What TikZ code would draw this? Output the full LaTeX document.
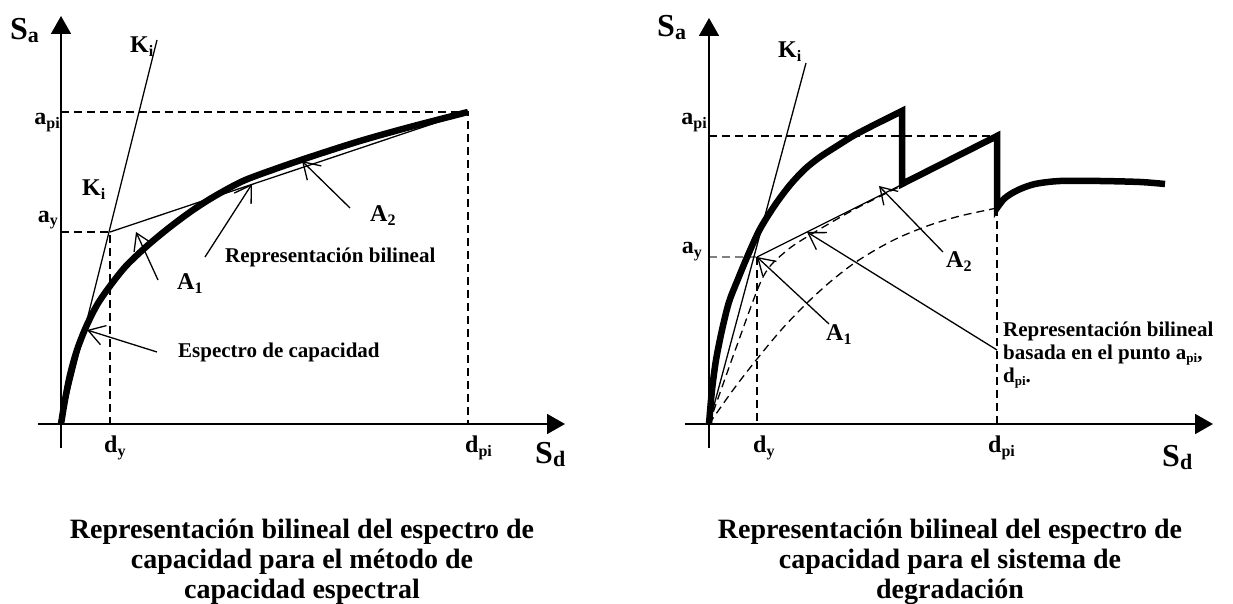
\documentclass[tikz,border=0pt]{standalone}
\usepackage{fontspec}
\setmainfont{Liberation Serif}
\usetikzlibrary{arrows.meta}
\newcommand{\lsub}[3]{\raisebox{-#2pt}{\fontsize{#1}{#1}\selectfont #3}}
\tikzset{
  ax/.style={line width=1.8pt, -{Triangle[length=18pt,width=20pt]}},
  thinln/.style={line width=1.3pt},
  dashln/.style={line width=1.3pt, dash pattern=on 8pt off 5pt},
  capcurve/.style={line width=6.5pt, line join=miter},
  ptr/.style={line width=1.3pt, -{Straight Barb[length=16pt,width=20pt]}},
  lbl/.style={font=\fontsize{24}{26}\selectfont\bfseries, inner sep=0pt},
  note/.style={font=\fontsize{21}{23}\selectfont\bfseries, inner sep=0pt},
  ttl/.style={font=\fontsize{28}{30}\selectfont\bfseries, align=center, inner sep=0pt},
  bigl/.style={font=\fontsize{32}{34}\selectfont\bfseries, inner sep=0pt},
}
\begin{document}
\begin{tikzpicture}[x=1pt,y=-1pt]
\useasboundingbox (0,0) rectangle (1233,604);
% ---------------- left chart ----------------
\coordinate (O1) at (61,424);
\coordinate (Y1) at (110,232);
\coordinate (P1) at (468,112);
\coordinate (yb1) at (61,448);
\coordinate (yt1) at (61,16);
\coordinate (xl1) at (38,424);
\coordinate (xr1) at (565,424);
\coordinate (kt1) at (157,40);
\coordinate (apL1) at (61,112);
\coordinate (dpB1) at (468,424);
\coordinate (ayL1) at (61,232);
\coordinate (dyB1) at (110,424);
% dashed guides
\draw[dashln] (apL1) -- (P1) -- (dpB1);
\draw[dashln] (ayL1) -- (Y1) -- (dyB1);
% axes
\draw[ax] (yb1) -- (yt1);
\draw[ax] (xl1) -- (xr1);
% K_i line and bilinear
\draw[thinln] (O1) -- (kt1);
\draw[thinln] (Y1) -- (P1);
% capacity curve
\draw[capcurve] plot[smooth] coordinates {(61,424) (65,400) (70,375) (77,350) (86,327) (97,305) (110,286) (126,266) (147,246) (170,227) (193,210) (215,196) (243,181) (275,169) (310,157) (360,141) (410,127) (468,112)};
% pointers
\coordinate (a1s) at (158,280); \coordinate (a1t) at (136,232);
\coordinate (rbs) at (205,257); \coordinate (rbt) at (252,184);
\coordinate (a2s) at (350,208); \coordinate (a2t) at (302,161);
\coordinate (ecs) at (157,352); \coordinate (ect) at (87,330);
\draw[ptr] (a1s) -- (a1t);
\draw[ptr] (rbs) -- (rbt);
\draw[ptr] (a2s) -- (a2t);
\draw[ptr] (ecs) -- (ect);
% labels
\node[bigl, anchor=base west] (sa1) at (10,40) {S\lsub{22}{3}{a}};
\node[bigl, anchor=base west] (sd1) at (535,463) {S\lsub{22}{3}{d}};
\node[lbl, anchor=base east] (api1) at (60,125) {a\lsub{16}{4}{pi}};
\node[lbl, anchor=base east] (ay1) at (58,222) {a\lsub{16}{4}{y}};
\node[lbl, anchor=base west] (dy1) at (104,452) {d\lsub{16}{4}{y}};
\node[lbl, anchor=base west] (dpi1) at (465,452) {d\lsub{16}{4}{pi}};
\node[lbl, anchor=base west] (kit1) at (130,53) {K\lsub{16}{4}{i}};
\node[lbl, anchor=base west] (kim1) at (82,196) {K\lsub{16}{4}{i}};
\node[lbl, anchor=base west] (A11) at (177,289) {A\lsub{16}{4}{1}};
\node[lbl, anchor=base west] (A21) at (370,221) {A\lsub{16}{4}{2}};
\node[note, anchor=base west] (rb1) at (225,262) {Representación bilineal};
\node[note, anchor=base west] (ec1) at (178,357) {Espectro de capacidad};
\node[ttl, anchor=north] (t1) at (302,519) {Representación bilineal del espectro de\\capacidad para el método de\\capacidad espectral};
% ---------------- right chart ----------------
\coordinate (O2) at (709,424);
\coordinate (Y2) at (757,257);
\coordinate (yb2) at (709,448);
\coordinate (yt2) at (709,18);
\coordinate (xl2) at (685,424);
\coordinate (xr2) at (1213,424);
\coordinate (kt2) at (806,63);
\coordinate (apL2) at (709,136);
\coordinate (apR2) at (997,136);
\coordinate (dpT2) at (997,208);
\coordinate (dpB2) at (997,424);
\coordinate (ayL2) at (709,257);
\coordinate (dyB2) at (757,424);
\coordinate (Q2) at (903,184);
\draw[dashln] (apL2) -- (apR2);
\draw[dashln] (dpT2) -- (dpB2);
\draw[dashln, gray] (ayL2) -- (Y2);
\draw[dashln] (Y2) -- (dyB2);
\draw[ax] (yb2) -- (yt2);
\draw[ax] (xl2) -- (xr2);
\draw[thinln] (O2) -- (kt2);
\draw[thinln] (Y2) -- (Q2);
% dashed curves
\draw[dashln] plot[smooth] coordinates {(709,424) (736,348) (763,277) (785,252) (810,235) (855,209) (903,185)};
\draw[dashln] plot[smooth] coordinates {(709,424) (733,390) (757,359) (782,329) (807,303) (830,282) (853,264) (877,249) (900,237) (930,225) (960,216) (997,208)};
% degrading capacity curve
\draw[capcurve] plot[smooth] coordinates {(709,424) (712,390) (716,360) (722,330) (729,302) (738,279) (748,255) (760,229) (775,205) (790,185) (805,169) (820,157) (837,146) (853,136) (870,127) (886,119) (902,111)}
  -- (902,184) -- (997,136) -- (997,208)
  -- plot[smooth] coordinates {(997,208) (1005,198) (1018,190) (1035,184) (1060,181) (1100,181) (1140,182) (1165,184)};
% pointers
\coordinate (b1s) at (829,324);
\coordinate (b2s) at (943,252); \coordinate (b2t) at (879,186);
\coordinate (rls) at (997,350); \coordinate (rlt) at (807,232);
\draw[ptr] (b1s) -- (Y2);
\draw[ptr] (b2s) -- (b2t);
\draw[ptr] (rls) -- (rlt);
% labels
\node[bigl, anchor=base west] (sa2) at (657,37) {S\lsub{22}{3}{a}};
\node[bigl, anchor=base west] (sd2) at (1162,466) {S\lsub{22}{3}{d}};
\node[lbl, anchor=base east] (api2) at (707,125) {a\lsub{16}{4}{pi}};
\node[lbl, anchor=base east] (ay2) at (702,253) {a\lsub{16}{4}{y}};
\node[lbl, anchor=base west] (dy2) at (753,452) {d\lsub{16}{4}{y}};
\node[lbl, anchor=base west] (dpi2) at (988,452) {d\lsub{16}{4}{pi}};
\node[lbl, anchor=base west] (kit2) at (778,58) {K\lsub{16}{4}{i}};
\node[lbl, anchor=base west] (A12) at (826,340) {A\lsub{16}{4}{1}};
\node[lbl, anchor=base west] (A22) at (946,267) {A\lsub{16}{4}{2}};
\node[note, anchor=north west, align=left] (rb2) at (1003,322) {Representación bilineal\\basada en el punto a\lsub{13}{3}{pi},\\d\lsub{13}{3}{pi}.};
\node[ttl, anchor=north] (t2) at (950,519) {Representación bilineal del espectro de\\capacidad para el sistema de\\degradación};
\end{tikzpicture}
\end{document}
